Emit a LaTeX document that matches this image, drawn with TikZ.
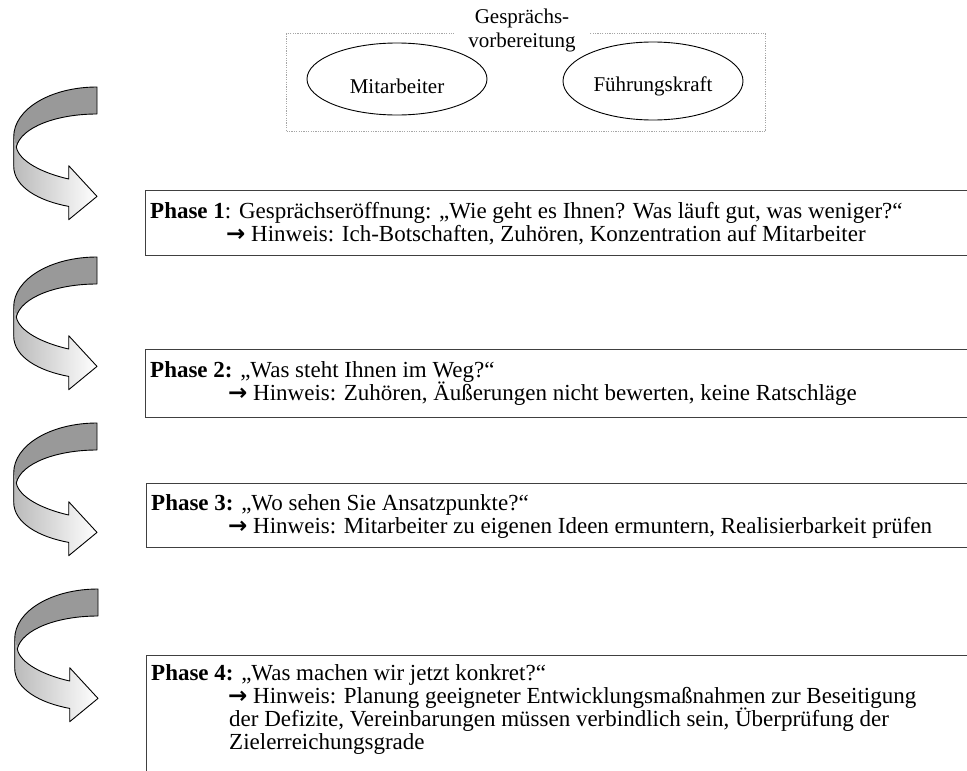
\documentclass[tikz,border=0pt]{standalone}
\usepackage{fontspec}
\setmainfont{Liberation Serif}
\newfontfamily\arrowfont{DejaVu Sans}
\usetikzlibrary{shapes.geometric}

\newcommand{\hintarrow}{{\arrowfont\bfseries →}}

\tikzset{
  phasebox/.style={draw=black!75, line width=1pt, anchor=north west, inner sep=0pt, minimum width=840pt},
  phasetxt/.style={anchor=base west, inner sep=0pt, font=\fontsize{23}{23}\selectfont},
  ovalnode/.style={draw, ellipse, line width=0.9pt, inner sep=0pt},
  ovaltxt/.style={inner sep=0pt, font=\fontsize{21}{24}\selectfont},
  prepframe/.style={draw=black!35, line width=1.2pt, dash pattern=on 1.2pt off 1.2pt},
  preplabel/.style={fill=white, inner xsep=14pt, inner ysep=2pt, align=center, font=\fontsize{21}{24}\selectfont},
  turnarrow/.pic={
    % back side of the band
    \fill[black!40] (0,0) .. controls (-46,0) and (-83.3,22) .. (-83.3,50)
      -- (-80.7,60) .. controls (-76,40) and (-40,27) .. (0,27) -- cycle;
    % front side with the arrow head
    \shade[left color=black!27, right color=white] (-83.3,50) -- (-83.3,79)
      .. controls (-83.3,100) and (-58,114) .. (-28.3,119.4)
      -- (-28.3,132.7) -- (0,109.4) -- (-28.3,78.7) -- (-28.3,92)
      .. controls (-55,86) and (-78,74) .. (-80.7,60) -- cycle;
    % outline
    \draw[line width=0.9pt, line join=round] (0,0) .. controls (-46,0) and (-83.3,22) .. (-83.3,50)
      -- (-83.3,79) .. controls (-83.3,100) and (-58,114) .. (-28.3,119.4)
      -- (-28.3,132.7) -- (0,109.4) -- (-28.3,78.7) -- (-28.3,92)
      .. controls (-55,86) and (-78,74) .. (-80.7,60)
      .. controls (-76,40) and (-40,27) .. (0,27) -- cycle;
  }
}

\begin{document}
\begin{tikzpicture}[x=1pt, y=-1pt]
  \useasboundingbox (0,0) rectangle (967,771);
  \clip (0,0) rectangle (967,771);

  % preparation frame with its two parties
  \node[prepframe, anchor=north west, minimum width=479pt, minimum height=98pt, inner sep=0pt] (prep) at (286,33) {};
  \node[preplabel] (preplbl) at (522,30) {Gesprächs-\\vorbereitung};
  \node[ovalnode, minimum width=180pt, minimum height=72pt] (ma) at (397,79) {};
  \node[ovaltxt] (matxt) at (397,86) {Mitarbeiter};
  \node[ovalnode, minimum width=180pt, minimum height=78pt] (fk) at (653,81) {};
  \node[ovaltxt] (fktxt) at (653,86) {Führungskraft};

  % turning arrows
  \pic at (97,87) {turnarrow};
  \pic at (97,257) {turnarrow};
  \pic at (97,423) {turnarrow};
  \pic at (98,589) {turnarrow};

  % phase 1
  \node[phasebox, minimum height=65pt] (box1) at (145,190) {};
  \node[phasetxt] (p1a) at (150,218) {\textbf{Phase 1}: Gesprächseröffnung: „Wie geht es Ihnen? Was läuft gut, was weniger?“};
  \node[phasetxt] (p1b) at (226,241) {\hintarrow{} Hinweis: Ich-Botschaften, Zuhören, Konzentration auf Mitarbeiter};

  % phase 2
  \node[phasebox, minimum height=68pt] (box2) at (145,349) {};
  \node[phasetxt] (p2a) at (150,377) {\textbf{Phase 2:} „Was steht Ihnen im Weg?“};
  \node[phasetxt] (p2b) at (228,400) {\hintarrow{} Hinweis: Zuhören, Äußerungen nicht bewerten, keine Ratschläge};

  % phase 3
  \node[phasebox, minimum height=64pt] (box3) at (146,483) {};
  \node[phasetxt] (p3a) at (151,510) {\textbf{Phase 3:} „Wo sehen Sie Ansatzpunkte?“};
  \node[phasetxt] (p3b) at (228,533) {\hintarrow{} Hinweis: Mitarbeiter zu eigenen Ideen ermuntern, Realisierbarkeit prüfen};

  % phase 4
  \node[phasebox, minimum height=140pt] (box4) at (146,655) {};
  \node[phasetxt] (p4a) at (151,680) {\textbf{Phase 4:} „Was machen wir jetzt konkret?“};
  \node[phasetxt] (p4b) at (228,703) {\hintarrow{} Hinweis: Planung geeigneter Entwicklungsmaßnahmen zur Beseitigung};
  \node[phasetxt] (p4c) at (229,726) {der Defizite, Vereinbarungen müssen verbindlich sein, Überprüfung der};
  \node[phasetxt] (p4d) at (229,749) {Zielerreichungsgrade};
\end{tikzpicture}
\end{document}
